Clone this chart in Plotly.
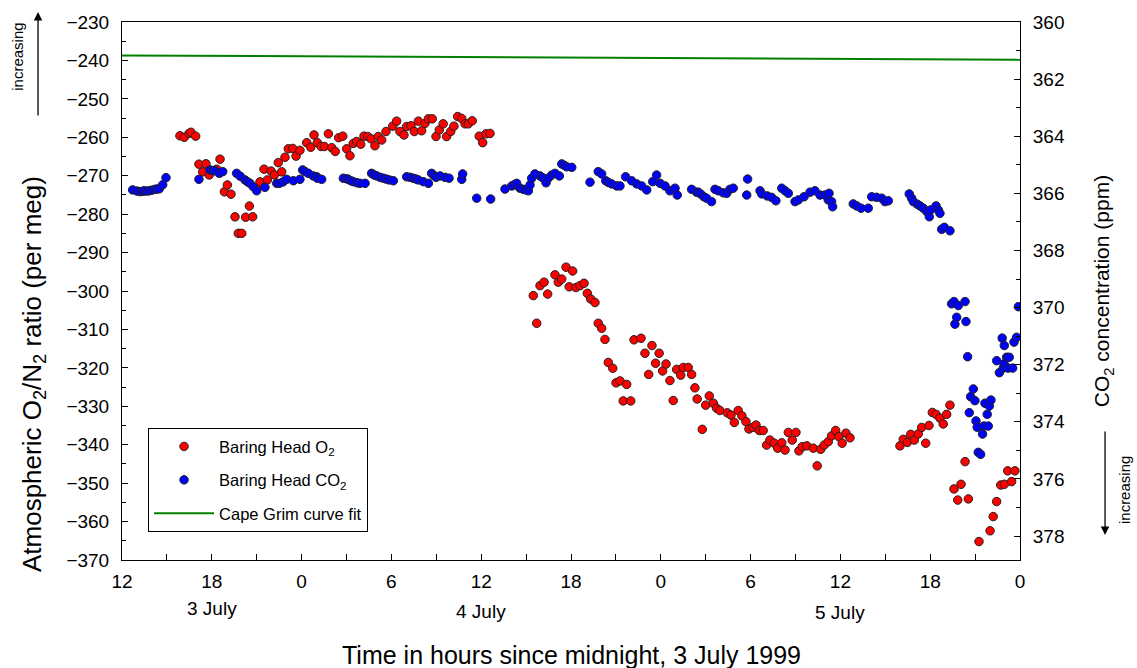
import plotly.graph_objects as go

# ---------------- data ----------------
o2_hours = [-8.13, -7.84, -7.52, -7.39, -7.08,
            -6.86, -6.61, -6.39, -6.17, -5.67, -5.45,
            -5.16, -4.96, -4.72, -4.45, -4.23, -4.00, -3.74, -3.49, -3.27,
            -3.0, -2.78, -2.51, -2.29, -2.04, -1.82, -1.56, -1.33, -1.11, -0.89, -0.59, -0.37, -0.11, 0.34, 0.61, 0.83, 1.05,
            1.30, 1.52, 1.79, 2.01, 2.25, 2.48, 2.75, 3.01, 3.23, 3.45, 3.68, 3.95, 4.17, 4.42, 4.64, 4.90, 5.12, 5.35, 5.64,
            6.09, 6.35, 6.57, 6.84, 7.02, 7.31, 7.53, 7.80, 8.02, 8.24, 8.47, 8.73, 8.98, 9.20, 9.46, 9.69, 9.96, 10.18,
            10.43, 10.70, 10.92, 11.14, 11.40, 11.87, 12.10, 12.32, 12.59,
            15.48, 15.71, 15.93, 16.20, 16.44, 16.93, 17.15, 17.38, 17.67, 17.88, 18.11, 18.33, 18.60, 18.87, 19.09, 19.32,
            19.60, 19.82, 20.05, 20.27, 20.49, 20.79, 21.01, 21.27, 21.49, 21.72, 21.99, 22.21, 22.68, 22.94, 23.19, 23.41,
            23.65, 23.89, 24.12, 24.35, 24.61, 24.83, 25.06, 25.33, 25.50, 25.83, 26.06, 26.28, 26.43,
            26.77, 27.0, 27.24, 27.51, 27.73, 27.95, 28.44, 28.69, 28.91, 29.17, 29.42, 29.69, 29.89, 30.14, 30.36, 30.58,
            30.84, 31.07, 31.29, 31.58, 31.81, 32.08, 32.30, 32.52, 32.78, 33.03, 33.23, 33.45, 33.75, 34.19, 34.45, 34.68,
            34.92, 35.19, 35.41, 35.68, 35.90, 36.12, 36.37, 36.64,
            39.98, 40.20, 40.47, 40.70, 40.94, 41.20, 41.43, 41.70, 41.92, 42.14, 42.39, 42.65, 42.87, 43.10, 43.32,
            43.59, 43.84, 44.06, 44.33, 44.55, 45.26, 46.0, 46.21, 46.44, 46.71, 46.95, 47.18, 47.44, 47.66]
o2_values = [-259.6, -260.0, -259.0, -258.7, -259.7,
             -267.0, -269.0, -266.9, -269.8, -268.3, -265.7,
             -274.2, -272.4, -274.8, -280.7, -285.0, -285.0, -280.8, -277.9, -280.7,
             -273.3, -271.6, -268.3, -271.1, -268.8, -269.8, -266.6, -269.0, -265.2, -263.0, -262.9, -264.9, -263.4, -261.4, -262.6, -259.4, -261.4,
             -262.4, -262.4, -259.1, -262.7, -263.7, -260.1, -259.7, -263.0, -264.8, -261.6, -261.1, -261.8, -259.7, -259.8, -260.4, -262.2, -259.8, -260.7, -258.5,
             -257.1, -255.8, -258.5, -259.4, -257.2, -257.0, -258.5, -255.8, -258.3, -256.4, -255.2, -255.2, -259.8, -258.1, -256.5, -259.8, -258.5, -257.1,
             -254.6, -255.1, -256.5, -256.5, -255.7, -259.7, -261.4, -259.1, -259.0,
             -301.2, -308.4, -298.6, -297.7, -300.8, -295.8, -297.7, -296.9, -293.8, -298.9, -294.8, -299.1, -298.6, -298.0, -300.6, -302.1,
             -303.0, -308.4, -309.7, -312.6, -318.6, -320.1, -323.9, -323.4, -328.6, -324.3, -328.6, -312.7, -312.3, -316.2, -321.7, -314.2,
             -318.8, -316.2, -320.8, -319.0, -323.3, -328.5, -320.4, -321.9, -319.9, -319.9, -321.7, -325.2, -328.1,
             -336.0, -329.7, -327.3, -329.2, -330.5, -331.1, -331.7, -332.3, -334.2, -331.1, -332.5, -334.0, -335.9, -335.5, -334.9, -336.3,
             -336.3, -340.1, -338.8, -339.6, -340.9, -339.5, -341.4, -336.8, -338.8, -336.8, -341.6, -340.5, -340.3, -340.9, -345.5, -341.2,
             -340.1, -339.2, -337.7, -336.3, -337.9, -339.6, -337.0, -338.2,
             -340.3, -338.6, -339.4, -337.3, -338.8, -337.2, -335.5, -339.6, -335.0, -331.6, -332.1, -333.1, -334.6, -332.1, -329.7,
             -351.5, -354.4, -350.3, -344.4, -354.1, -365.2, -362.4, -358.7, -354.8, -350.5, -350.3, -346.8, -349.6, -346.8]

co2_hours = [-11.29, -11.0, -10.80, -10.6, -10.53, -10.35, -10.18, -10.0, -9.80, -9.65, -9.51, -9.28, -9.06,
             -6.86, -6.12, -5.95, -5.79, -5.50, -5.27,
             -4.34, -4.1, -3.78, -3.6, -3.45, -3.23, -3.0, -2.45, -1.66, -1.49, -1.25, -1.0, -0.55, -0.11,
             0.07, 0.23, 0.45, 0.78, 1.01, 1.05, 1.34,
             2.79, 3.0, 3.12, 3.3, 3.45, 3.7, 3.90, 4.24, 4.68, 4.85, 5.02, 5.25, 5.46, 5.65, 5.86, 6.13,
             7.02, 7.25, 7.46, 7.65, 7.80, 8.13, 8.47, 8.69, 8.85, 8.98, 9.25, 9.58, 9.85, 10.70, 10.76, 11.70, 12.63,
             13.59, 14.04, 14.2, 14.37, 14.59, 14.81, 15.0, 15.15, 15.26, 15.37, 15.59, 15.93, 16.1, 16.33, 16.48, 16.71,
             16.93, 17.22, 17.38, 17.55, 17.71, 18.05,
             19.27, 19.82, 20.05, 20.32, 20.5, 20.72, 21.05, 21.27, 21.65, 22.05, 22.39, 22.72, 23.06, 23.46, 23.72, 23.95,
             24.28, 24.61, 24.95, 25.10,
             26.06, 26.39, 26.50, 26.66, 26.88, 27.06, 27.39, 27.62, 27.84, 28.17, 28.40, 28.62, 28.84, 29.74, 29.80,
             30.63, 30.74, 31.11, 31.40, 31.69, 32.08, 32.30, 32.52, 32.97, 33.19, 33.57, 33.97, 34.30, 34.64, 34.97,
             35.19, 35.24, 35.41, 35.48, 36.86, 37.09, 37.38, 37.86, 38.09, 38.42, 38.76, 38.98, 39.20,
             40.60, 40.76, 40.87, 41.14, 41.32, 41.54, 41.77, 41.94, 42.03, 42.39, 42.54, 42.65, 42.77, 42.94, 43.32,
             43.43, 43.59, 43.65, 43.77, 43.88, 44.33, 44.39, 44.50, 44.61, 44.70, 44.88, 44.99, 45.06, 45.14, 45.21,
             45.37, 45.50, 45.59, 45.66, 45.81, 45.88, 45.95, 46.06, 46.44, 46.62, 46.81, 46.88, 46.93, 46.95, 47.11,
             47.21, 47.28, 47.51, 47.60, 47.78, 47.89]
co2_values = [365.88, 365.92, 365.94, 365.93, 365.91, 365.92, 365.91, 365.89, 365.86, 365.85, 365.84, 365.70, 365.45,
              365.51, 365.18, 365.20, 365.21, 365.30, 365.24,
              365.30, 365.40, 365.53, 365.60, 365.65, 365.77, 365.91, 365.79, 365.65, 365.65, 365.60, 365.51, 365.56, 365.51,
              365.18, 365.24, 365.30, 365.39, 365.42, 365.47, 365.51,
              365.47, 365.49, 365.51, 365.56, 365.59, 365.63, 365.65, 365.65, 365.30, 365.36, 365.39, 365.44, 365.47, 365.50, 365.53, 365.56,
              365.42, 365.44, 365.47, 365.50, 365.53, 365.59, 365.65, 365.30, 365.38, 365.44, 365.39, 365.44, 365.47, 365.51, 365.32, 366.17, 366.20,
              365.85, 365.74, 365.70, 365.65, 365.82, 365.86, 365.88, 365.91, 365.71, 365.47, 365.32, 365.39, 365.45, 365.63, 365.47, 365.36,
              365.30, 365.39, 364.97, 365.02, 365.07, 365.09,
              365.61, 365.24, 365.32, 365.56, 365.62, 365.67, 365.74, 365.74, 365.42, 365.56, 365.67, 365.74, 365.88, 365.59, 365.36, 365.65,
              365.74, 365.91, 365.82, 366.06,
              365.86, 365.96, 365.96, 366.02, 366.12, 366.17, 366.29, 365.86, 365.91, 365.98, 366.00, 365.86, 365.82, 366.06, 365.50,
              365.91, 366.02, 366.09, 366.14, 366.26, 365.82, 365.91, 366.00, 366.29, 366.23, 366.12, 365.96, 365.91, 366.06, 366.06,
              366.23, 366.00, 366.29, 366.47, 366.37, 366.44, 366.52, 366.52, 366.12, 366.14, 366.17, 366.29, 366.26,
              366.02, 366.17, 366.29, 366.38, 366.44, 366.52, 366.64, 366.82, 366.58, 366.44, 366.58, 366.70, 367.26, 367.19, 367.31,
              369.87, 369.79, 370.58, 370.34, 369.93, 369.79, 370.49, 371.72, 373.68, 373.12, 372.85, 373.26, 373.97, 374.19, 375.07,
              375.14, 374.43, 374.15, 373.35, 373.74, 374.15, 373.45, 373.24, 371.86, 372.28, 371.07, 372.12, 371.97, 371.33, 371.74,
              372.12, 371.74, 372.12, 371.21, 371.04, 369.97]

fit_hours = [-12, 0, 12, 24, 36, 48]
fit_values = [-238.7, -238.9, -239.1, -239.3, -239.55, -239.8]

x_tickvals = [-12, -6, 0, 6, 12, 18, 24, 30, 36, 42, 48]
x_ticktext = ["12", "18", "0", "6", "12", "18", "0", "6", "12", "18", "0"]
day_labels = ["3 July", "4 July", "5 July"]
day_label_hours = [-6, 12, 36]

FONT = "Liberation Sans, Arial, sans-serif"

fig = go.Figure()
fig.add_trace(go.Scatter(
    x=o2_hours, y=o2_values, mode="markers", name="Baring Head O<sub>2</sub>",
    marker=dict(color="#ff0000", size=8.5, line=dict(color="#222222", width=1)),
    legendgroup="a", yaxis="y"))
fig.add_trace(go.Scatter(
    x=co2_hours, y=co2_values, mode="markers", name="Baring Head CO<sub>2</sub>",
    marker=dict(color="#0000ff", size=8.5, line=dict(color="#222222", width=1)),
    legendgroup="b", yaxis="y2"))
fig.add_trace(go.Scatter(
    x=fit_hours, y=fit_values, mode="lines", name="Cape Grim curve fit",
    line=dict(color="#008000", width=2), legendgroup="c", yaxis="y"))

annotations = []
for lab, h, yy in zip(day_labels, day_label_hours, [-0.091, -0.095, -0.098]):
    annotations.append(dict(x=h, y=yy, xref="x", yref="paper", text=lab, showarrow=False,
                            xanchor="center", yanchor="middle",
                            font=dict(size=19, color="black", family=FONT)))
# "increasing" markers
annotations.append(dict(x=-0.1158, y=0.9354, xref="paper", yref="paper", text="increasing",
                        textangle=-90, showarrow=False, xanchor="center", yanchor="middle",
                        font=dict(size=15, color="black", family=FONT)))
annotations.append(dict(x=-0.0935, y=1.0186, xref="paper", yref="paper", ax=0, ay=105,
                        text="", showarrow=True, arrowhead=2, arrowsize=1.3, arrowwidth=1.3, arrowcolor="black"))
annotations.append(dict(x=1.1158, y=0.13, xref="paper", yref="paper", text="increasing",
                        textangle=-90, showarrow=False, xanchor="center", yanchor="middle",
                        font=dict(size=15, color="black", family=FONT)))
annotations.append(dict(x=1.0947, y=0.0465, xref="paper", yref="paper", ax=0, ay=-105,
                        text="", showarrow=True, arrowhead=2, arrowsize=1.3, arrowwidth=1.3, arrowcolor="black"))
# axis titles placed explicitly
annotations.append(dict(x=0.5, y=-0.177, xref="paper", yref="paper",
                        text="Time in hours since midnight, 3 July 1999", showarrow=False,
                        xanchor="center", yanchor="middle", font=dict(size=25, color="black", family=FONT)))
annotations.append(dict(x=-0.0991, y=0.3457, xref="paper", yref="paper", textangle=-90,
                        text="Atmospheric O<sub>2</sub>/N<sub>2</sub> ratio (per meg)", showarrow=False,
                        xanchor="center", yanchor="middle", font=dict(size=26, color="black", family=FONT)))

fig.update_layout(
    width=1137, height=668, autosize=False,
    margin=dict(l=122, r=117, t=22, b=108),
    plot_bgcolor="white", paper_bgcolor="white",
    font=dict(family=FONT, size=19, color="black"),
    showlegend=True,
    legend=dict(x=0.029, y=0.245, xanchor="left", yanchor="top",
                bordercolor="black", borderwidth=1, bgcolor="white",
                font=dict(size=16.5, family=FONT), tracegroupgap=9, itemwidth=60),
    xaxis=dict(range=[-12, 48], tickvals=x_tickvals, ticktext=x_ticktext,
               ticks="inside", ticklen=6, tickcolor="black", showline=True, linecolor="black",
               linewidth=1, mirror=True, showgrid=False, zeroline=False,
               minor=dict(dtick=3, tick0=0, ticks="inside", ticklen=6, tickcolor="black"),
               tickfont=dict(size=19), ticklabelstandoff=4),
    yaxis=dict(range=[-370, -230], dtick=10, tick0=-370, ticks="inside", ticklen=6, tickcolor="black",
               showline=True, linecolor="black", linewidth=1, showgrid=False, zeroline=False,
               minor=dict(dtick=5, ticks="inside", ticklen=4, tickcolor="black"),
               tickfont=dict(size=19), ticklabelstandoff=8),
    yaxis2=dict(range=[378.84, 360], tickvals=[360, 362, 364, 366, 368, 370, 372, 374, 376, 378],
                overlaying="y", side="right", ticks="inside", ticklen=6, tickcolor="black",
                showline=True, linecolor="black", linewidth=1, showgrid=False, zeroline=False,
                minor=dict(dtick=1, ticks="inside", ticklen=4, tickcolor="black"),
                tickfont=dict(size=19), ticklabelstandoff=8,
                title=dict(text="CO<sub>2</sub> concentration (ppm)", font=dict(size=21), standoff=30)),
    annotations=annotations,
)

fig.write_html("out.html")
